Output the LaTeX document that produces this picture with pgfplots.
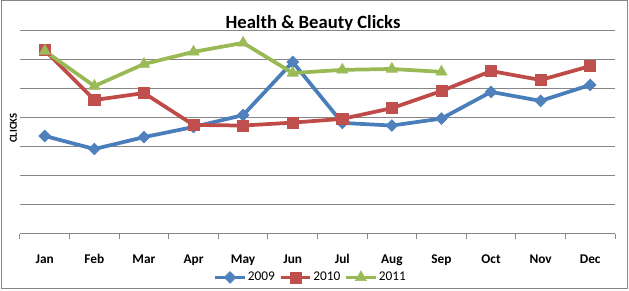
\documentclass[border=0pt]{standalone}
\usepackage{fontspec}
\setmainfont{Carlito}
\usepackage{pgfplots}
\pgfplotsset{compat=1.18}
\definecolor{gridgray}{HTML}{868686}
\definecolor{l09}{HTML}{4A7EBB}
\definecolor{l10}{HTML}{BE4B48}
\definecolor{l11}{HTML}{98B954}
\definecolor{m09}{HTML}{4F81BD}
\definecolor{m10}{HTML}{C0504D}
\definecolor{m11}{HTML}{9BBB59}
\begin{document}
\begin{tikzpicture}
\useasboundingbox (0,0) rectangle (471.75pt,-218.25pt);
\draw[color=gridgray, line width=0.75pt] (0.75pt,-0.75pt) rectangle (470.25pt,-216.75pt);
\node[anchor=base, font=\fontsize{14}{16}\selectfont\bfseries] at (234.75pt,-21.75pt) {Health \& Beauty Clicks};
\node[rotate=90, font=\fontsize{8}{9}\selectfont\bfseries] at (10.1pt,-96pt) {CLICKS};
\begin{axis}[
  at={(15pt,-175.5pt)}, anchor=south west,
  scale only axis, width=446.25pt, height=152.25pt,
  xmin=-0.5, xmax=11.5, ymin=0, ymax=7,
  axis x line*=bottom, axis y line*=left,
  x axis line style={draw=gridgray, line width=0.75pt},
  y axis line style={draw=none},
  xtick={0,...,11},
  xticklabels={Jan,Feb,Mar,Apr,May,Jun,Jul,Aug,Sep,Oct,Nov,Dec},
  x tick label style={anchor=base, yshift=-18pt, font=\fontsize{10}{12}\selectfont\bfseries},
  xtick style={draw=none},
  minor xtick={-0.5,0.5,...,11.5},
  minor x tick style={draw=gridgray, line width=0.75pt},
  tick align=outside, minor tick length=3.5pt,
  ytick={0,...,7}, yticklabels={}, ytick style={draw=none},
  ymajorgrids, major grid style={draw=gridgray, line width=0.75pt},
  clip=false,
  legend style={at={(0.488,-0.214)}, anchor=center, draw=none, fill=none,
    inner sep=0pt, nodes={inner sep=1pt},
    legend columns=3, font=\fontsize{10}{12}\selectfont,
    /tikz/every even column/.append style={column sep=2pt}},
  legend image code/.code={\draw[mark repeat=2,mark phase=2,#1] plot coordinates {(0pt,0pt) (11pt,0pt) (22pt,0pt)};},
]
\addplot[color=l09, line width=2.8pt, mark=square*, mark size=3.1pt, mark options={rotate=45, fill=m09, draw=m09, line width=0.5pt}]
coordinates {(0,3.38) (1,2.93) (2,3.34) (3,3.69) (4,4.10) (5,5.93) (6,3.83) (7,3.74) (8,3.98) (9,4.90) (10,4.59) (11,5.14)};
\addlegendentry{2009}
\addplot[color=l10, line width=2.8pt, mark=square*, mark size=4.2pt, mark options={fill=m10, draw=m10, line width=0.5pt}]
coordinates {(0,6.34) (1,4.62) (2,4.86) (3,3.76) (4,3.74) (5,3.84) (6,3.97) (7,4.34) (8,4.93) (9,5.62) (10,5.31) (11,5.79)};
\addlegendentry{2010}
\addplot[color=l11, line width=2.8pt, mark=triangle*, mark size=4.8pt, mark options={fill=m11, draw=m11, line width=0.5pt}]
coordinates {(0,6.31) (1,5.10) (2,5.86) (3,6.28) (4,6.59) (5,5.55) (6,5.66) (7,5.69) (8,5.59)};
\addlegendentry{2011}
\end{axis}
\end{tikzpicture}
\end{document}
